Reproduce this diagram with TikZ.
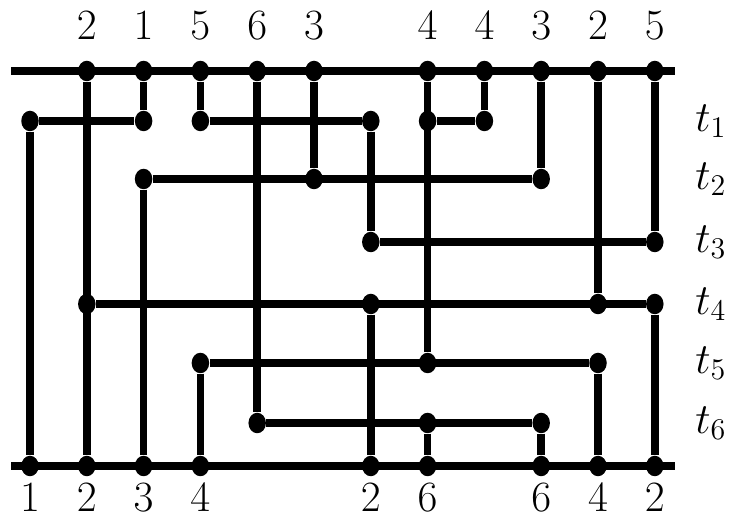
\documentclass[tikz,border=0pt]{standalone}
\usepackage{amsmath,amssymb}
\usepackage{tikz}
\usetikzlibrary{shapes.geometric}
\usetikzlibrary{positioning}

\tikzset{
	dot/.style = {ellipse, fill=black, inner sep=0pt, minimum width=7pt, minimum height=8.2pt},
	wire/.style = {line width=3pt},
	lab/.style = {inner sep=0pt, font=\LARGE}
}

\begin{document}
\begin{tikzpicture}[x = 0.4pt, y = -0.4pt]
		\useasboundingbox (0,0) rectangle (733,518);
		% the two rails
		\coordinate (tl) at (11,71);
		\coordinate (tr) at (675,71);
		\coordinate (bl) at (11,466);
		\coordinate (br) at (675,466);
		\draw[wire] (tl) -- (tr);
		\draw[wire] (bl) -- (br);
		% dots on the top rail
		\foreach \c/\l in {2/2,3/1,4/5,5/6,6/3,8/4,9/4,10/3,11/2,12/5}
		{
			\node[dot] (u\c) at ({30+(\c-1)*56.8},71) {};
			\node[lab] (ul\c) at ({30+(\c-1)*56.8},26) {$\l$};
		}
		% dots on the bottom rail
		\foreach \c/\l in {1/1,2/2,3/3,4/4,7/2,8/6,10/6,11/4,12/2}
		{
			\node[dot] (b\c) at ({30+(\c-1)*56.8},466) {};
			\node[lab] (bl\c) at ({30+(\c-1)*56.8},498) {$\l$};
		}
		% row labels
		\foreach \r/\y in {1/121,2/179,3/242,4/304,5/363,6/423}
		{
			\node[lab] (t\r) at (711,\y) {$t_{\r}$};
		}
		% inner dots
		\foreach \c/\r/\y in {1/1/121,3/1/121,4/1/121,7/1/121,8/1/121,9/1/121,
			3/2/179,6/2/179,10/2/179,7/3/242,12/3/242,
			2/4/304,7/4/304,11/4/304,12/4/304,
			4/5/363,8/5/363,11/5/363,5/6/423,8/6/423,10/6/423}
		{
			\node[dot] (d\c-\r) at ({30+(\c-1)*56.8},\y) {};
		}
		% vertical wires
		\foreach \a/\b in {u2/b2,u3/d3-1,u4/d4-1,u5/d5-6,u6/d6-2,u8/d8-5,u9/d9-1,
			u10/d10-2,u11/d11-4,u12/d12-3,d1-1/b1,d3-2/b3,d4-5/b4,d7-1/d7-3,
			d7-4/b7,d8-6/b8,d10-6/b10,d11-5/b11,d12-4/b12}
		{
			\draw[wire] (\a) -- (\b);
		}
		% horizontal wires
		\foreach \a/\b in {d1-1/d3-1,d4-1/d7-1,d8-1/d9-1,d3-2/d10-2,d7-3/d12-3,
			d2-4/d12-4,d4-5/d11-5,d5-6/d10-6}
		{
			\draw[wire] (\a) -- (\b);
		}
	\end{tikzpicture}
\end{document}
